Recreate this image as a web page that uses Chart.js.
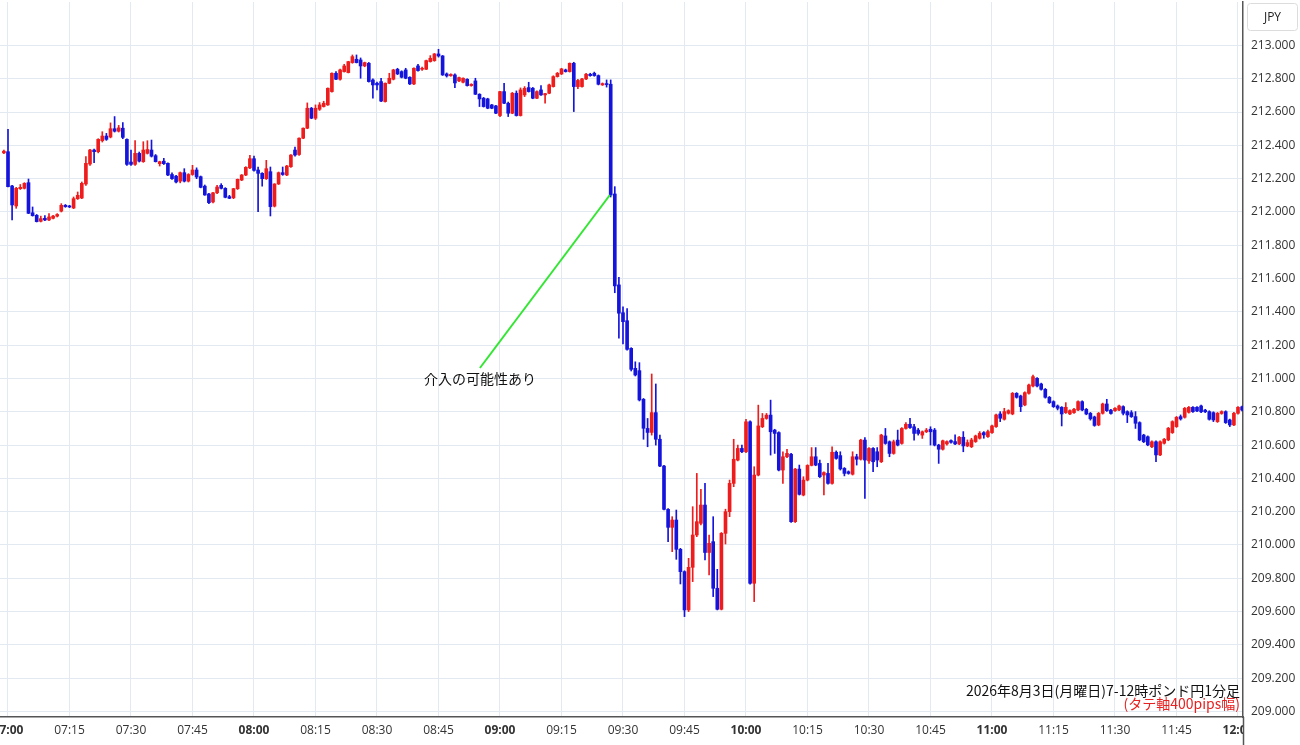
<!DOCTYPE html>
<html>
<head>
<meta charset="utf-8">
<script src="https://cdn.jsdelivr.net/npm/chart.js@4.4.1/dist/chart.umd.min.js"></script>
<style>
html,body{margin:0;padding:0;background:#fff;}
canvas{display:block;}
</style>
</head>
<body>
<canvas id="c" width="1300" height="745"></canvas>
<script>
// minute offset (from 07:00) of the first candle; one candle per minute
const firstMinute = -1;

const openPrices = [
212.355,
212.362,212.156,212.036,212.140,212.142,212.176,211.995,211.980,211.944,211.962,
211.952,211.962,211.975,212.005,212.040,212.036,212.024,212.080,212.084,212.168,
212.288,212.372,212.362,212.428,212.456,212.450,212.500,212.485,212.503,212.436,
212.300,212.286,212.352,212.302,212.352,212.372,212.338,212.290,212.305,212.292,
212.225,212.215,212.185,212.236,212.185,212.225,212.252,212.212,212.155,212.108,
212.060,212.115,212.160,212.142,212.092,212.085,212.140,212.192,212.222,212.265,
212.320,212.252,212.232,212.200,212.242,212.035,212.168,212.236,212.222,212.272,
212.372,212.345,212.443,212.503,212.623,212.563,212.617,212.633,212.643,212.723,
212.833,212.797,212.843,212.837,212.897,212.917,212.913,212.877,212.893,212.793,
212.773,212.783,212.663,212.773,212.797,212.857,212.843,212.853,212.809,212.769,
212.877,212.857,212.857,212.903,212.909,212.949,212.937,212.829,212.818,212.823,
212.787,212.779,212.797,212.759,212.787,212.707,212.683,212.679,212.643,212.637,
212.579,212.723,212.653,212.593,212.713,212.579,212.703,212.747,212.743,212.683,
212.733,212.703,212.713,212.753,212.813,212.829,212.853,212.843,212.893,212.753,
212.753,212.799,212.827,212.833,212.819,212.763,212.771,212.767,212.108,211.562,
211.395,211.347,211.181,211.061,211.047,210.875,210.700,210.676,210.795,210.635,
210.474,210.214,210.106,210.150,209.974,209.840,209.610,209.866,210.060,210.130,
210.240,209.955,210.020,209.740,209.614,210.070,210.200,210.370,210.510,210.580,
210.560,210.740,209.770,210.420,210.710,210.760,210.780,210.690,210.675,210.450,
210.530,210.545,210.140,210.456,210.300,210.390,210.478,210.530,210.490,210.420,
210.430,210.370,210.557,210.537,210.460,210.440,210.425,210.530,210.515,210.630,
210.505,210.580,210.560,210.500,210.655,210.620,210.550,210.630,210.610,210.700,
210.725,210.710,210.690,210.660,210.680,210.695,210.690,210.600,210.575,210.607,
210.627,210.621,210.607,210.647,210.595,210.590,210.621,210.641,210.675,210.651,
210.675,210.711,210.787,210.755,210.791,210.787,210.911,210.895,210.841,210.911,
210.955,211.001,210.967,210.935,210.887,210.861,210.835,210.827,210.795,210.787,
210.795,210.811,210.861,210.815,210.791,210.769,210.721,210.791,210.847,210.810,
210.807,210.811,210.831,210.801,210.795,210.771,210.735,210.660,210.650,210.590,
210.620,210.541,210.611,210.631,210.675,210.711,210.771,210.767,210.797,210.827,
210.827,210.835,210.810,210.801,210.795,210.741,210.790,210.801,210.751,210.721,
210.791,210.830
];

const highPrices = [
212.372,
212.497,212.160,212.148,212.165,212.176,212.198,212.030,211.985,211.975,211.978,
211.990,211.980,211.990,212.050,212.045,212.040,212.090,212.120,212.180,212.332,
212.376,212.378,212.440,212.482,212.472,212.535,212.573,212.520,212.537,212.440,
212.372,212.428,212.360,212.422,212.428,212.432,212.345,212.305,212.322,212.295,
212.235,212.220,212.240,212.260,212.230,212.280,212.265,212.216,212.162,212.112,
212.118,212.160,212.170,212.146,212.100,212.142,212.198,212.225,212.272,212.340,
212.336,212.270,212.236,212.310,212.270,212.170,212.240,212.270,212.280,212.345,
212.390,212.446,212.505,212.655,212.628,212.643,212.657,212.665,212.745,212.835,
212.843,212.858,212.887,212.905,212.943,212.943,212.925,212.900,212.898,212.800,
212.780,212.803,212.775,212.833,212.857,212.863,212.848,212.863,212.812,212.865,
212.887,212.870,212.912,212.939,212.952,212.977,212.940,212.835,212.830,212.829,
212.810,212.806,212.800,212.770,212.803,212.710,212.688,212.683,212.646,212.640,
212.725,212.773,212.660,212.718,212.727,212.745,212.753,212.779,212.748,212.728,
212.759,212.713,212.768,212.818,212.838,212.863,212.858,212.895,212.899,212.797,
212.803,212.833,212.833,212.840,212.823,212.775,212.793,212.793,212.152,211.608,
211.431,211.420,211.185,211.100,211.095,210.880,210.760,211.027,210.967,210.660,
210.478,210.218,210.170,210.210,209.980,209.845,209.920,210.230,210.430,210.335,
210.370,210.060,210.170,209.854,210.075,210.215,210.390,210.635,210.600,210.600,
210.755,210.745,210.470,210.840,210.790,210.790,210.870,210.695,210.680,210.560,
210.575,210.550,210.460,210.480,210.410,210.482,210.585,210.585,210.510,210.440,
210.490,210.590,210.565,210.560,210.465,210.445,210.560,210.545,210.635,210.645,
210.585,210.585,210.585,210.665,210.700,210.625,210.630,210.690,210.705,210.735,
210.760,210.725,210.700,210.685,210.700,210.710,210.700,210.605,210.630,210.625,
210.632,210.661,210.652,210.681,210.631,210.641,210.660,210.681,210.681,210.690,
210.720,210.786,210.801,210.821,210.812,210.916,210.915,210.900,210.920,210.966,
211.021,211.006,210.972,210.940,210.892,210.866,210.841,210.831,210.855,210.812,
210.821,210.866,210.866,210.820,210.796,210.774,210.796,210.852,210.875,210.815,
210.826,210.840,210.836,210.806,210.807,210.801,210.740,210.665,210.655,210.625,
210.625,210.625,210.640,210.706,210.746,210.772,210.781,210.826,210.832,210.832,
210.832,210.840,210.815,210.806,210.800,210.796,210.806,210.806,210.756,210.796,
210.832,210.835
];

const lowPrices = [
212.350,
212.150,211.952,212.022,212.135,212.138,211.990,211.975,211.940,211.940,211.948,
211.948,211.958,211.970,212.000,212.028,212.026,212.020,212.075,212.080,212.160,
212.280,212.296,212.355,212.420,212.430,212.445,212.480,212.480,212.440,212.280,
212.280,212.280,212.300,212.298,212.348,212.330,212.300,212.276,212.285,212.218,
212.195,212.175,212.175,212.180,212.180,212.220,212.200,212.145,212.100,212.050,
212.055,212.110,212.138,212.085,212.080,212.080,212.135,212.188,212.218,212.260,
212.245,212.002,212.155,212.195,211.976,212.030,212.165,212.220,212.218,212.268,
212.335,212.340,212.440,212.500,212.560,212.555,212.610,212.630,212.640,212.720,
212.795,212.792,212.840,212.835,212.893,212.895,212.803,212.872,212.780,212.683,
212.733,212.663,212.660,212.770,212.793,212.825,212.805,212.800,212.765,212.765,
212.845,212.850,212.855,212.900,212.905,212.930,212.820,212.810,212.815,212.747,
212.783,212.775,212.756,212.755,212.705,212.633,212.630,212.620,212.620,212.590,
212.573,212.650,212.573,212.590,212.576,212.576,212.693,212.720,212.680,212.680,
212.700,212.653,212.710,212.750,212.810,212.825,212.840,212.840,212.603,212.740,
212.750,212.795,212.815,212.815,212.763,212.760,212.750,212.090,211.515,211.242,
211.207,211.170,211.045,211.015,210.865,210.635,210.590,210.660,210.600,210.470,
210.210,210.020,209.960,209.914,209.766,209.570,209.600,209.780,210.050,210.120,
209.910,209.820,209.690,209.610,209.610,210.006,210.170,210.350,210.505,210.555,
210.555,209.765,209.660,210.415,210.705,210.755,210.540,210.550,210.445,210.370,
210.525,210.135,210.135,210.300,210.295,210.385,210.475,210.476,210.405,210.300,
210.365,210.365,210.515,210.450,210.415,210.425,210.420,210.480,210.510,210.280,
210.490,210.440,210.470,210.495,210.605,210.530,210.545,210.595,210.605,210.695,
210.700,210.630,210.660,210.640,210.675,210.600,210.595,210.490,210.570,210.600,
210.612,210.602,210.602,210.560,210.590,210.585,210.616,210.636,210.641,210.646,
210.670,210.706,210.741,210.750,210.786,210.782,210.882,210.801,210.836,210.906,
210.950,210.950,210.930,210.882,210.850,210.826,210.811,210.715,210.790,210.782,
210.790,210.806,210.806,210.782,210.750,210.713,210.716,210.786,210.802,210.785,
210.802,210.806,210.781,210.735,210.766,210.700,210.626,210.615,210.596,210.585,
210.500,210.536,210.606,210.626,210.670,210.706,210.750,210.762,210.792,210.796,
210.800,210.795,210.795,210.750,210.741,210.736,210.785,210.730,210.711,210.716,
210.786,210.805
];

const closePrices = [
212.365,
212.152,212.042,212.142,212.148,212.172,211.992,211.978,211.942,211.960,211.952,
211.970,211.975,211.985,212.040,212.032,212.030,212.080,212.100,212.172,212.292,
212.372,212.362,212.436,212.456,212.436,212.500,212.485,212.505,212.448,212.286,
212.286,212.352,212.305,212.372,212.375,212.335,212.302,212.302,212.290,212.222,
212.200,212.180,212.236,212.185,212.225,212.252,212.210,212.148,212.102,212.056,
212.115,212.150,212.142,212.088,212.082,212.140,212.196,212.222,212.268,212.320,
212.250,212.232,212.200,212.260,212.032,212.168,212.236,212.225,212.276,212.342,
212.342,212.443,212.503,212.623,212.563,212.623,212.643,212.653,212.743,212.833,
212.797,212.853,212.877,212.903,212.933,212.897,212.877,212.897,212.783,212.763,
212.763,212.666,212.773,212.803,212.853,212.829,212.809,212.803,212.769,212.863,
212.849,212.863,212.909,212.923,212.949,212.937,212.823,212.817,212.826,212.775,
212.807,212.803,212.759,212.767,212.707,212.679,212.633,212.623,212.623,212.593,
212.723,212.653,212.593,212.713,212.579,212.733,212.743,212.723,212.683,212.723,
212.703,212.711,212.763,212.813,212.833,212.859,212.843,212.893,212.753,212.790,
212.799,212.827,212.819,212.819,212.767,212.771,212.765,212.102,211.556,211.392,
211.341,211.175,211.055,211.021,210.871,210.701,210.676,210.795,210.635,210.474,
210.214,210.106,210.150,209.974,209.840,209.610,209.866,210.060,210.140,210.240,
209.955,210.010,209.740,209.614,210.070,210.200,210.370,210.515,210.580,210.560,
210.740,209.770,210.420,210.715,210.760,210.780,210.680,210.670,210.450,210.530,
210.550,210.140,210.456,210.304,210.390,210.478,210.530,210.480,210.410,210.435,
210.370,210.557,210.520,210.457,210.430,210.430,210.530,210.515,210.630,210.510,
210.580,210.500,210.510,210.660,210.610,210.550,210.620,210.600,210.700,210.725,
210.705,210.670,210.670,210.680,210.690,210.680,210.600,210.575,210.626,210.621,
210.617,210.607,210.647,210.595,210.615,210.631,210.655,210.671,210.661,210.681,
210.715,210.781,210.761,210.801,210.807,210.911,210.887,210.831,210.915,210.961,
211.011,210.955,210.935,210.887,210.855,210.831,210.821,210.787,210.827,210.807,
210.815,210.861,210.811,210.787,210.758,210.718,210.791,210.847,210.807,210.790,
210.821,210.835,210.791,210.781,210.771,210.731,210.631,210.620,210.601,210.620,
210.541,210.620,210.635,210.701,210.741,210.767,210.757,210.821,210.827,210.801,
210.805,210.800,210.800,210.755,210.751,210.791,210.801,210.735,210.721,210.791,
210.827,210.810
];

// axis ticks
const yTickValues = [209.0,209.2,209.4,209.6,209.8,210.0,210.2,210.4,210.6,210.8,211.0,
                     211.2,211.4,211.6,211.8,212.0,212.2,212.4,212.6,212.8,213.0];
const xTickMinutes = [0,15,30,45,60,75,90,105,120,135,150,165,180,195,210,225,240,255,270,285,300];
const xTickLabels = ['07:00','07:15','07:30','07:45','08:00','08:15','08:30','08:45','09:00','09:15','09:30',
                     '09:45','10:00','10:15','10:30','10:45','11:00','11:15','11:30','11:45','12:00'];

// annotation (data coordinates)
const annotationLinePoints = [{x:146.8, y:212.102}, {x:115.1, y:211.063}];
const annotationLabel = {x:115.1, y:211.0, text:'介入の可能性あり'};
const titleText = '2026年8月3日(月曜日)7-12時ポンド円1分足';
const noteText = '(タテ軸400pips幅)';
const currencyText = 'JPY';

const UP = '#ee1c1c', DOWN = '#1414dc';
const minutes = openPrices.map((_, k) => firstMinute + k);
const colors = openPrices.map((o, k) => closePrices[k] >= o ? UP : DOWN);

const decor = {
  id: 'decor',
  beforeDraw(chart) {
    const c = chart.ctx;
    c.save(); c.fillStyle = '#fff'; c.fillRect(0, 0, chart.width, chart.height); c.restore();
  },
  afterDraw(chart) {
    const c = chart.ctx, a = chart.chartArea;
    const xs = chart.scales.x, ys = chart.scales.y;
    c.save();
    // clip x labels that run under the price axis
    c.fillStyle = '#fff';
    c.fillRect(a.right + 1, a.bottom + 1, chart.width - a.right, chart.height - a.bottom);
    c.strokeStyle = '#555';
    c.lineWidth = 1.5;
    c.beginPath(); c.moveTo(a.right + 0.5, a.bottom); c.lineTo(a.right + 0.5, chart.height); c.stroke();
    // currency box
    c.strokeStyle = '#dcdcdc'; c.lineWidth = 1;
    c.beginPath();
    if (c.roundRect) c.roundRect(a.right + 4.5, 3.5, 50, 27, 3); else c.rect(a.right + 4.5, 3.5, 50, 27);
    c.stroke();
    c.fillStyle = '#222';
    c.font = '12px "Open Sans", "Noto Sans", sans-serif';
    c.textAlign = 'center'; c.textBaseline = 'middle';
    c.fillText(currencyText, a.right + 29.5, 17.5);
    // annotation label
    c.fillStyle = '#111';
    c.font = '14px "Noto Sans CJK JP", sans-serif';
    c.fillText(annotationLabel.text, xs.getPixelForValue(annotationLabel.x), ys.getPixelForValue(annotationLabel.y));
    // footer texts
    c.textAlign = 'right';
    c.fillStyle = '#111';
    c.fillText(titleText, a.right - 3, a.bottom - 26);
    c.fillStyle = '#e82020';
    c.fillText(noteText, a.right - 3, a.bottom - 13);
    c.restore();
  }
};

const fitAxis = (prop, size) => (s) => {
  s[prop] = size;
  s.paddingLeft = 0; s.paddingRight = 0; s.paddingTop = 0; s.paddingBottom = 0;
};

new Chart(document.getElementById('c'), {
  type: 'bar',
  data: {
    datasets: [
      {
        type: 'line',
        data: annotationLinePoints,
        borderColor: '#33e633',
        borderWidth: 2,
        pointRadius: 0,
        order: 0
      },
      {
        data: minutes.map((m, k) => ({x: m, y: [lowPrices[k], highPrices[k]]})),
        backgroundColor: colors,
        barThickness: 1,
        grouped: false,
        order: 2
      },
      {
        data: minutes.map((m, k) => ({x: m, y: [openPrices[k], closePrices[k]]})),
        backgroundColor: colors,
        barThickness: 3,
        minBarLength: 1,
        grouped: false,
        order: 1
      }
    ]
  },
  options: {
    responsive: false,
    animation: false,
    devicePixelRatio: 1,
    layout: {padding: {top: 2, left: 0, right: 0, bottom: 0}},
    plugins: {legend: {display: false}, tooltip: {enabled: false}},
    scales: {
      x: {
        type: 'linear',
        offset: false,
        min: firstMinute - 0.951,
        max: 301.22,
        afterBuildTicks: (s) => { s.ticks = xTickMinutes.map(v => ({value: v})); },
        afterFit: fitAxis('height', 28),
        grid: {color: '#e3e9f0', offset: false, drawTicks: false},
        border: {color: '#555', width: 1.5},
        ticks: {
          autoSkip: false, maxRotation: 0, padding: 6, color: '#333',
          font: (ctx) => ({family: '"Open Sans", "Noto Sans", sans-serif', size: 12,
                           weight: (ctx.tick && ctx.tick.value % 60 === 0) ? 'bold' : 'normal'}),
          callback: (v) => xTickLabels[xTickMinutes.indexOf(v)]
        }
      },
      y: {
        type: 'linear',
        position: 'right',
        min: 208.967,
        max: 213.261,
        afterBuildTicks: (s) => { s.ticks = yTickValues.map(v => ({value: v})); },
        afterFit: fitAxis('width', 57),
        grid: {color: '#e3e9f0', drawTicks: false},
        border: {color: '#555', width: 1.5},
        ticks: {
          padding: 8, color: '#333',
          font: {family: '"Open Sans", "Noto Sans", sans-serif', size: 12},
          callback: (v) => Number(v).toFixed(3)
        }
      }
    }
  },
  plugins: [decor]
});
</script>
</body>
</html>
